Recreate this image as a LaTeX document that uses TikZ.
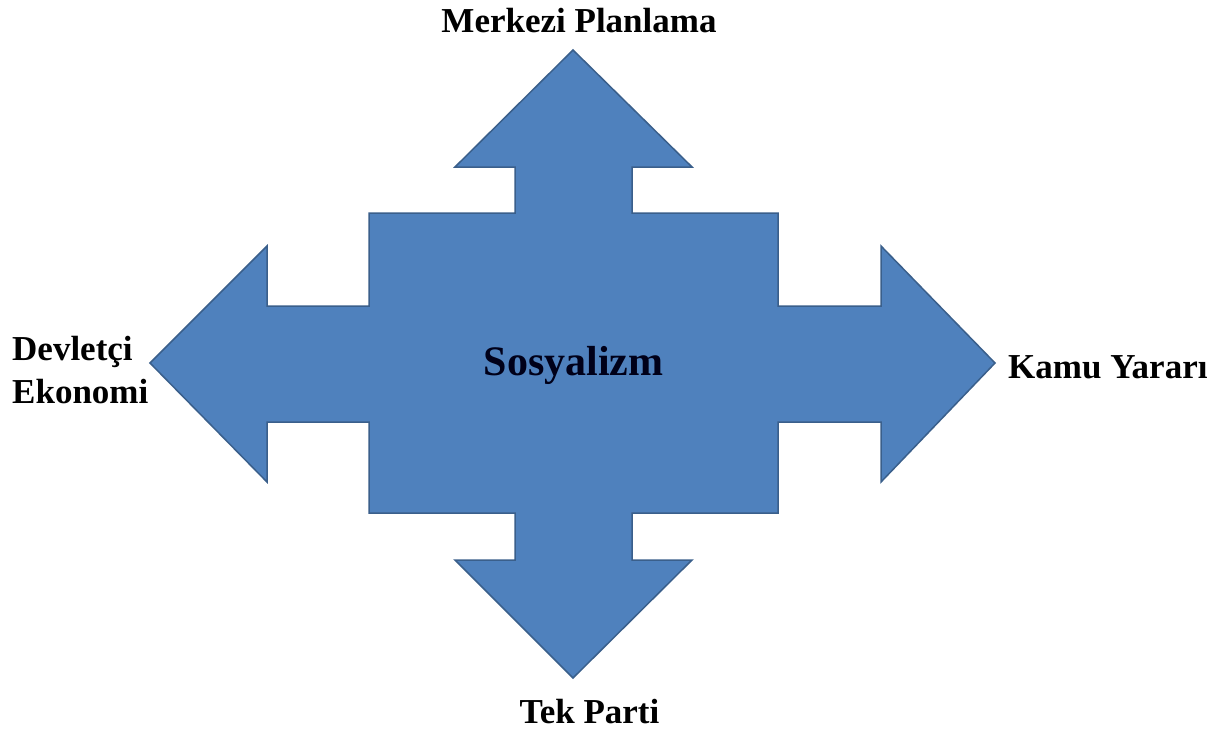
\documentclass[tikz,border=0pt]{standalone}
\usepackage{fontspec}
\setmainfont{Liberation Serif}
\definecolor{shapefill}{HTML}{4F81BD}
\definecolor{shapeline}{HTML}{3A5F8B}
\begin{document}
\begin{tikzpicture}[x=1pt,y=-1pt,
  lbl/.style={inner sep=0pt,font=\fontsize{35}{43}\selectfont\bfseries,text=black},
  big/.style={inner sep=0pt,font=\fontsize{42}{50}\selectfont\bfseries,text=black!90!blue}]
\useasboundingbox (0,0) rectangle (1225,734);
\fill[white] (0,0) rectangle (1225,734);
\draw[fill=shapefill,draw=shapeline,line width=1.5pt,line join=miter]
 (573,50) -- (692,167) -- (632,167) -- (632,213) -- (778,213) -- (778,306)
 -- (881,306) -- (881,246) -- (995,363) -- (881,482) -- (881,422) -- (778,422)
 -- (778,513) -- (632,513) -- (632,560) -- (692,560) -- (573,678) -- (455,560)
 -- (515,560) -- (515,513) -- (369,513) -- (369,422) -- (267,422) -- (267,482)
 -- (150,363) -- (267,246) -- (267,306) -- (369,306) -- (369,213) -- (515,213)
 -- (515,167) -- (455,167) -- cycle;
\node[big,anchor=base] (center) at (573.5,375) {Sosyalizm};
\node[lbl,anchor=base] (top) at (579,32) {Merkezi Planlama};
\node[lbl,anchor=base] (bottom) at (589.5,723) {Tek Parti};
\node[lbl,anchor=base west] (left1) at (12,360) {Devletçi};
\node[lbl,anchor=base west] (left2) at (12,403) {Ekonomi};
\node[lbl,anchor=base west] (right) at (1008,378) {Kamu Yararı};
\end{tikzpicture}
\end{document}
